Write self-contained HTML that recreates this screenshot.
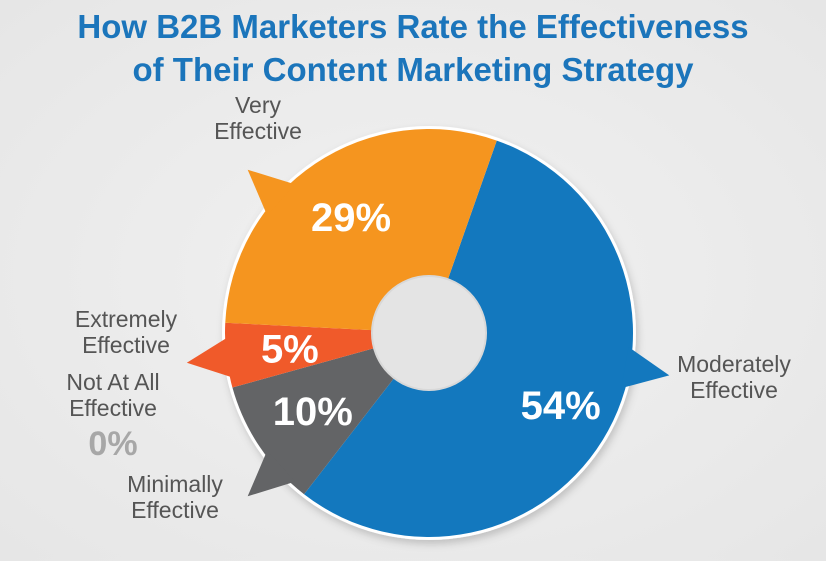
<!DOCTYPE html>
<html><head><meta charset="utf-8"><style>
html,body{margin:0;padding:0;}
body{width:826px;height:556px;overflow:hidden;background:radial-gradient(ellipse at 50% 50%,#f1f1f1 0%,#e6e6e6 100%);font-family:"Liberation Sans",sans-serif;}
</style></head><body>
<svg width="826" height="556" viewBox="0 0 826 556">
<defs>
<filter id="sh" x="-10%" y="-10%" width="120%" height="120%"><feDropShadow dx="2" dy="4" stdDeviation="4" flood-color="#000" flood-opacity="0.18"/></filter>
</defs>
<text x="413" y="38" text-anchor="middle" font-size="33" font-weight="bold" fill="#1b75bb">How B2B Marketers Rate the Effectiveness</text>
<text x="413" y="81" text-anchor="middle" font-size="33" font-weight="bold" fill="#1b75bb">of Their Content Marketing Strategy</text>
<circle cx="429" cy="333" r="207" fill="#fff" filter="url(#sh)"/>
<g id="slices"></g>
<circle cx="429" cy="333" r="57" fill="#e4e4e4" stroke="#d8d8d8" stroke-width="2"/>
<g id="labels" font-size="23" fill="#555">
<text x="258" y="113" text-anchor="middle"><tspan x="258">Very</tspan><tspan x="258" dy="26">Effective</tspan></text>
<text x="126" y="327" text-anchor="middle"><tspan x="126">Extremely</tspan><tspan x="126" dy="26">Effective</tspan></text>
<text x="113" y="390" text-anchor="middle"><tspan x="113">Not At All</tspan><tspan x="113" dy="26">Effective</tspan></text>
<text x="113" y="455" text-anchor="middle" font-size="34" font-weight="bold" fill="#a7a7a7">0%</text>
<text x="175" y="492" text-anchor="middle"><tspan x="175">Minimally</tspan><tspan x="175" dy="26">Effective</tspan></text>
<text x="734" y="372" text-anchor="middle"><tspan x="734">Moderately</tspan><tspan x="734" dy="26">Effective</tspan></text>
</g>
</svg>
<script>
const categories = ["Moderately Effective","Minimally Effective","Extremely Effective","Very Effective"];
const values = [54, 10, 5, 29];
const valueLabels = ["54%","10%","5%","29%"];
const colors = ["#1378be","#636466","#f05a2a","#f5951f"];
const cx=429, cy=333, R=204, startDeg=19.4;
const total = values.reduce((a,b)=>a+b,0);
const ns="http://www.w3.org/2000/svg";
const g=document.getElementById('slices');
function pt(deg,r){const a=deg*Math.PI/180;return [cx+r*Math.sin(a), cy-r*Math.cos(a)];}
// callout pointers (angle on circle, tip offset)
const pointerAngles=[100, 228, 263, 312];
let a0=startDeg;
values.forEach((v,i)=>{
  const span=v/total*360, a1=a0+span;
  const p0=pt(a0,R), p1=pt(a1,R), large=span>180?1:0;
  const path=document.createElementNS(ns,'path');
  path.setAttribute('d',`M${cx},${cy} L${p0[0]},${p0[1]} A${R},${R} 0 ${large} 1 ${p1[0]},${p1[1]} Z`);
  path.setAttribute('fill',colors[i]);
  
  
  g.appendChild(path);
  // pointer
  const pa=pointerAngles[i];
  const b0=pt(pa-6,R-4), b1=pt(pa+6,R-4), tip=pt(pa,R+40);
  const tri=document.createElementNS(ns,'polygon');
  tri.setAttribute('points',`${b0[0]},${b0[1]} ${b1[0]},${b1[1]} ${tip[0]},${tip[1]}`);
  tri.setAttribute('fill',colors[i]);
  
  
  g.appendChild(tri);
  // value label
  const mid=(a0+a1)/2;
  const lr = span>150 ? 150 : 140;
  const lp=pt(mid,lr);
  const t=document.createElementNS(ns,'text');
  t.setAttribute('x',lp[0]); t.setAttribute('y',lp[1]+14);
  t.setAttribute('text-anchor','middle'); t.setAttribute('fill','#fff');
  t.setAttribute('font-size','40'); t.setAttribute('font-weight','bold');
  t.textContent=valueLabels[i];
  
  
  g.appendChild(t);
  a0=a1;
});
</script>
</body></html>
